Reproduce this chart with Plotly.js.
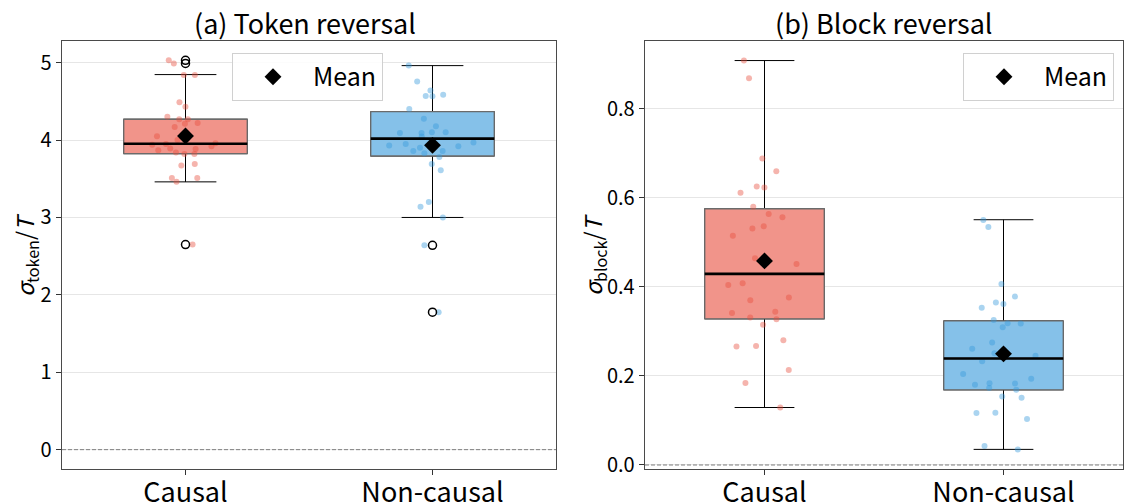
<!DOCTYPE html>
<html>
<head>
<meta charset="utf-8">
<script src="https://cdn.plot.ly/plotly-3.0.1.min.js"></script>
<style>html,body{margin:0;padding:0;background:#fff;}#chart{width:1132px;height:502px;}</style>
</head>
<body>
<div id="chart"></div>
<script>
// ---------- data ----------
const categories = ['Causal', 'Non-causal'];
const panelTitles = ['(a) Token reversal', '(b) Block reversal'];
const yTitles = ['<i>σ</i><sub>token</sub>/<i>T</i>', '<i>σ</i><sub>block</sub>/<i>T</i>'];
const legendLabel = 'Mean';

const tokenCausal = [5.03, 4.99, 4.84, 4.84, 4.49, 4.43, 4.30, 4.27, 4.27, 4.22, 4.21, 4.17, 4.05, 4.00, 3.96, 3.95, 3.94, 3.92, 3.89, 3.885, 3.87, 3.84, 3.82, 3.82, 3.69, 3.67, 3.51, 3.51, 3.46, 2.65];
const tokenNonCausal = [4.962, 4.756, 4.64, 4.587, 4.57, 4.565, 4.40, 4.277, 4.18, 4.10, 4.10, 4.09, 4.09, 4.045, 3.97, 3.95, 3.93, 3.92, 3.90, 3.86, 3.86, 3.83, 3.78, 3.69, 3.61, 3.20, 3.14, 3.00, 2.64, 1.776];
const blockCausal = [0.9076, 0.868, 0.688, 0.659, 0.625, 0.623, 0.611, 0.5795, 0.5557, 0.563, 0.5355, 0.531, 0.5145, 0.4638, 0.451, 0.408, 0.404, 0.3757, 0.3697, 0.3413, 0.344, 0.331, 0.327, 0.315, 0.280, 0.267, 0.266, 0.213, 0.184, 0.129];
const blockNonCausal = [0.5497, 0.534, 0.4063, 0.378, 0.3615, 0.3645, 0.353, 0.3256, 0.3174, 0.318, 0.309, 0.2748, 0.2606, 0.251, 0.245, 0.233, 0.204, 0.1934, 0.183, 0.180, 0.1837, 0.1725, 0.1687, 0.1538, 0.1508, 0.1165, 0.117, 0.103, 0.0425, 0.035];

const tokenQ1 = [3.824, 3.794];
const tokenMedian = [3.953, 4.018];
const tokenQ3 = [4.269, 4.367];
const tokenLowerWhisker = [3.46, 3.00];
const tokenUpperWhisker = [4.846, 4.962];
const tokenMean = [4.053, 3.932];

const blockQ1 = [0.328, 0.1687];
const blockMedian = [0.429, 0.239];
const blockQ3 = [0.575, 0.3234];
const blockLowerWhisker = [0.129, 0.035];
const blockUpperWhisker = [0.9076, 0.5504];
const blockMean = [0.458, 0.2494];

const tokenTicks = [0, 1, 2, 3, 4, 5];
const blockTicks = [0.0, 0.2, 0.4, 0.6, 0.8];

// ---------- style ----------
const FONT = '"Noto Sans CJK JP", "Noto Sans", "DejaVu Sans", sans-serif';
const BOX_W = 0.5;
const pointColors = ['rgba(231,76,60,0.42)', 'rgba(52,152,219,0.42)'];
const boxFills = ['#F1948A', '#85C1E9'];

const panels = [
  {xa: 'x', ya: 'y', legend: 'legend', samples: [tokenCausal, tokenNonCausal], q1: tokenQ1, med: tokenMedian, q3: tokenQ3, lo: tokenLowerWhisker, hi: tokenUpperWhisker, mean: tokenMean},
  {xa: 'x2', ya: 'y2', legend: 'legend2', samples: [blockCausal, blockNonCausal], q1: blockQ1, med: blockMedian, q3: blockQ3, lo: blockLowerWhisker, hi: blockUpperWhisker, mean: blockMean}
];

const traces = [];
panels.forEach(function (p) {
  categories.forEach(function (c, i) {
    // whiskers + caps (black)
    traces.push({type: 'box', xaxis: p.xa, yaxis: p.ya, orientation: 'v', x: [i],
      q1: [p.q1[i]], median: [p.med[i]], q3: [p.q3[i]], lowerfence: [p.lo[i]], upperfence: [p.hi[i]],
      width: BOX_W, whiskerwidth: 0.5, boxpoints: false, fillcolor: 'rgba(0,0,0,0)',
      line: {color: '#000', width: 1}, showlegend: false, hoverinfo: 'skip'});
    // box body (fill + grey edge)
    traces.push({type: 'box', xaxis: p.xa, yaxis: p.ya, orientation: 'v', x: [i],
      q1: [p.q1[i]], median: [p.med[i]], q3: [p.q3[i]], lowerfence: [p.q1[i]], upperfence: [p.q3[i]],
      width: BOX_W, whiskerwidth: 0, boxpoints: false, fillcolor: boxFills[i],
      line: {color: '#6b6b6b', width: 1.3}, showlegend: false, hoverinfo: 'skip'});
    // jittered sample points
    traces.push({type: 'box', xaxis: p.xa, yaxis: p.ya, orientation: 'v',
      x: p.samples[i].map(function () { return i; }), y: p.samples[i],
      width: BOX_W, boxpoints: 'all', jitter: 0.75, pointpos: 0,
      fillcolor: 'rgba(0,0,0,0)', line: {color: 'rgba(0,0,0,0)', width: 0},
      marker: {size: 6, color: pointColors[i]}, showlegend: false, hoveron: 'points'});
  });
  // median lines
  const mx = [], my = [];
  categories.forEach(function (c, i) {
    mx.push(i - BOX_W / 2, i + BOX_W / 2, null);
    my.push(p.med[i], p.med[i], null);
  });
  traces.push({type: 'scatter', mode: 'lines', xaxis: p.xa, yaxis: p.ya, x: mx, y: my,
    line: {color: '#000', width: 2.6}, showlegend: false, hoverinfo: 'skip'});
  // outliers (points beyond whiskers)
  const ox = [], oy = [];
  categories.forEach(function (c, i) {
    p.samples[i].forEach(function (v) {
      if (v > p.hi[i] || v < p.lo[i]) { ox.push(i); oy.push(v); }
    });
  });
  traces.push({type: 'scatter', mode: 'markers', xaxis: p.xa, yaxis: p.ya, x: ox, y: oy,
    marker: {symbol: 'circle-open', size: 8, color: '#000', line: {width: 1.5, color: '#000'}},
    showlegend: false, hoverinfo: 'y'});
  // means
  traces.push({type: 'scatter', mode: 'markers', xaxis: p.xa, yaxis: p.ya,
    x: categories.map(function (c, i) { return i; }), y: p.mean,
    marker: {symbol: 'diamond', size: 13, color: '#000'}, name: legendLabel, legend: p.legend, showlegend: true});
});

function xAxis(domain) {
  return {domain: domain, range: [-0.5, 1.5], tickvals: [0, 1], ticktext: categories,
    ticks: 'outside', ticklen: 5, tickcolor: '#333', tickwidth: 1, ticklabelstandoff: -6,
    showgrid: false, zeroline: false, showline: true, mirror: true, linecolor: '#4a4a4a', linewidth: 1.3,
    tickfont: {size: 27, color: '#000', family: FONT}, automargin: false, fixedrange: true};
}
function yAxis(range, ticks, fmt) {
  return {range: range, tickvals: ticks, tickformat: fmt,
    ticks: 'outside', ticklen: 5, tickcolor: '#333', tickwidth: 1,
    showgrid: true, gridcolor: '#e6e6e6', gridwidth: 1, zeroline: false,
    showline: true, mirror: true, linecolor: '#4a4a4a', linewidth: 1.3,
    tickfont: {size: 20, color: '#000', family: FONT}, automargin: false, fixedrange: true};
}

const W = 1132;
const legendCommon = {xanchor: 'left', yanchor: 'top', bgcolor: 'rgba(255,255,255,0.85)',
  bordercolor: '#d0d0d0', borderwidth: 1, font: {size: 25, family: FONT, color: '#000'}, itemwidth: 70};

const layout = {
  width: 1132, height: 502,
  margin: {l: 0, r: 0, t: 41, b: 33},
  paper_bgcolor: '#fff', plot_bgcolor: '#fff',
  font: {family: FONT, color: '#000'},
  boxmode: 'overlay',
  xaxis: xAxis([62 / W, 556 / W]),
  yaxis: Object.assign(yAxis([-0.25, 5.28], tokenTicks, 'd'), {anchor: 'x'}),
  xaxis2: Object.assign(xAxis([645 / W, 1123 / W]), {anchor: 'y2'}),
  yaxis2: Object.assign(yAxis([-0.009, 0.9515], blockTicks, '.1f'), {anchor: 'x2'}),
  legend: Object.assign({x: 232 / W, y: 0.972}, legendCommon),
  legend2: Object.assign({x: 963 / W, y: 0.972}, legendCommon),
  shapes: [
    {type: 'line', xref: 'x domain', yref: 'y', x0: 0, x1: 1, y0: 0, y1: 0, layer: 'above', line: {color: '#7f7f7f', width: 1, dash: '4px,2px'}},
    {type: 'line', xref: 'x2 domain', yref: 'y2', x0: 0, x1: 1, y0: 0, y1: 0, layer: 'above', line: {color: '#7f7f7f', width: 1, dash: '4px,2px'}}
  ],
  annotations: [
    {text: panelTitles[0], xref: 'paper', yref: 'paper', x: 305 / W, y: 1, xanchor: 'center', yanchor: 'bottom', yshift: -3, showarrow: false, font: {size: 27, family: FONT}},
    {text: panelTitles[1], xref: 'paper', yref: 'paper', x: 884 / W, y: 1, xanchor: 'center', yanchor: 'bottom', yshift: -3, showarrow: false, font: {size: 27, family: FONT}},
    {text: yTitles[0], xref: 'paper', yref: 'paper', x: 25 / W, y: 0.5, xanchor: 'center', yanchor: 'middle', textangle: -90, showarrow: false, font: {size: 23, family: FONT}},
    {text: yTitles[1], xref: 'paper', yref: 'paper', x: 593 / W, y: 0.5, xanchor: 'center', yanchor: 'middle', textangle: -90, showarrow: false, font: {size: 23, family: FONT}}
  ],
  showlegend: true
};

Plotly.newPlot('chart', traces, layout, {displayModeBar: false, staticPlot: true});
</script>
</body>
</html>
